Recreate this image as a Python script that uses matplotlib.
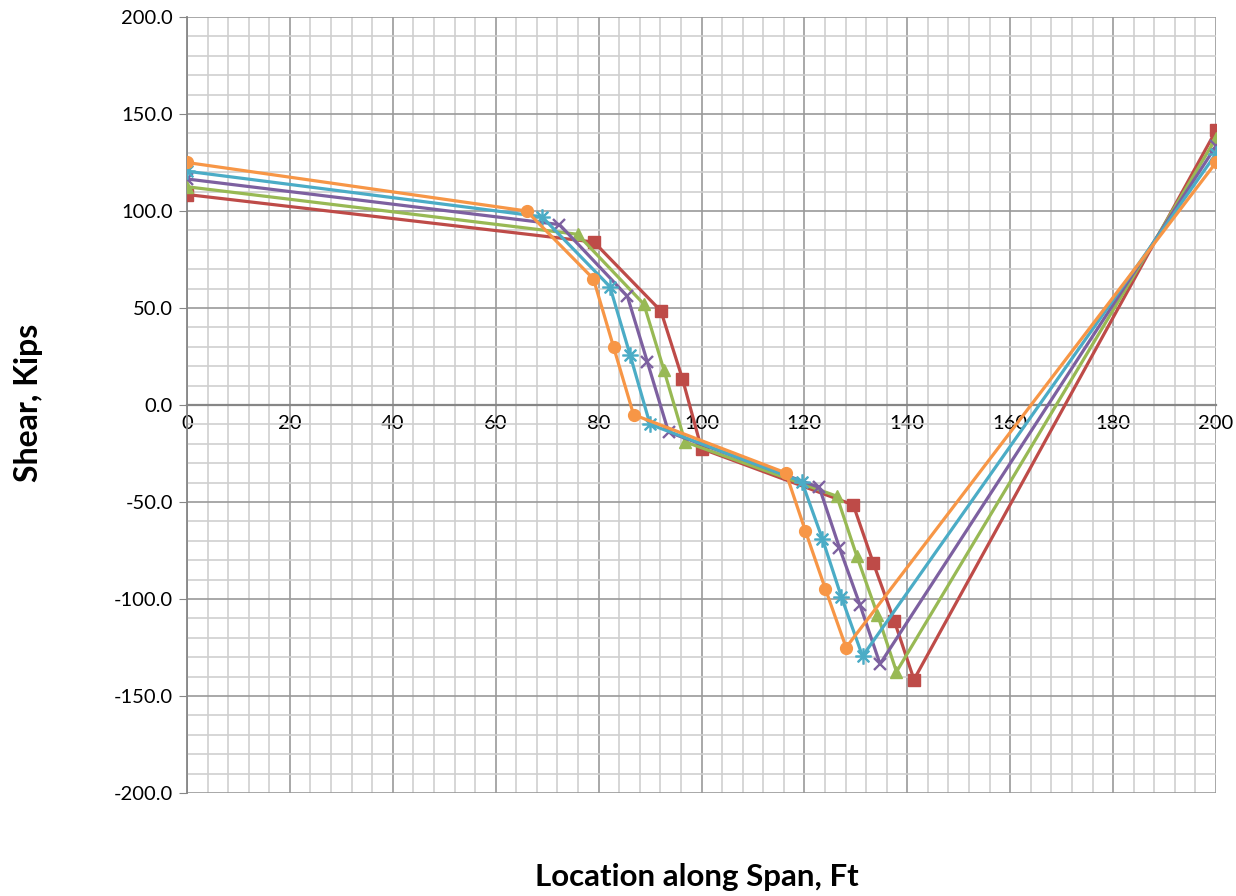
import numpy as np
import matplotlib
matplotlib.use("Agg")
import matplotlib.pyplot as plt
from matplotlib.ticker import MultipleLocator, FormatStrFormatter

# series data (location ft, shear kips)
x_orange = [0, 66.0, 79.0, 82.9, 86.8, 116.4, 120.2, 124.1, 128.1, 200]
y_orange = [125.0, 100.0, 65.0, 30.0, -5.0, -35.0, -65.0, -95.0, -125.0, 125.0]

x_teal = [0, 69.0, 82.2, 86.1, 90.0, 119.5, 123.5, 127.2, 131.3, 200]
y_teal = [120.5, 97.0, 61.0, 26.0, -10.0, -39.5, -69.0, -99.0, -129.5, 129.5]

x_purple = [0, 72.4, 85.6, 89.5, 93.6, 122.9, 126.8, 130.8, 134.7, 200]
y_purple = [116.5, 93.0, 56.0, 22.0, -14.0, -42.5, -73.5, -103.0, -133.5, 133.5]

x_green = [0, 75.9, 88.8, 92.7, 96.8, 126.3, 130.2, 134.2, 137.9, 200]
y_green = [112.5, 88.0, 52.0, 18.0, -19.0, -47.0, -78.0, -108.0, -137.5, 137.5]

x_red = [0, 79.1, 92.1, 96.3, 100.0, 129.5, 133.4, 137.5, 141.3, 200]
y_red = [108.5, 84.0, 48.5, 13.5, -22.5, -51.5, -81.5, -111.5, -141.5, 141.5]

plt.rcParams['font.family'] = ['Lato', 'DejaVu Sans']

fig = plt.figure(figsize=(12.36, 8.96), dpi=100)
ax = fig.add_axes([187/1236, 1-793/896, (1216-187)/1236, (793-17)/896])

series = [
    (x_red, y_red, '#BE4B48', 's', 8.5),
    (x_green, y_green, '#98B954', '^', 8.5),
    (x_purple, y_purple, '#7D60A0', 'x', 8.5),
    (x_teal, y_teal, '#4BACC6', '$\u2733$', 11),
    (x_orange, y_orange, '#F79646', 'o', 8.5),
]
for xs, ys, c, m, ms in series:
    if m == 'x':
        ax.plot(xs, ys, color=c, lw=2.3, marker=m, ms=ms, mew=1.7, zorder=3)
    else:
        ax.plot(xs, ys, color=c, lw=2.3, marker=m, ms=ms, mec=c, mfc=c, zorder=3)

ax.set_xlim(0, 200)
ax.set_ylim(-200, 200)
ax.xaxis.set_major_locator(MultipleLocator(20))
ax.xaxis.set_minor_locator(MultipleLocator(4))
ax.yaxis.set_major_locator(MultipleLocator(50))
ax.yaxis.set_minor_locator(MultipleLocator(10))
ax.yaxis.set_major_formatter(FormatStrFormatter('%.1f'))

ax.grid(which='major', color='#9A9A9A', lw=1.2, zorder=0)
ax.grid(which='minor', color='#CFCFCF', lw=1.2, zorder=0)
ax.set_axisbelow(True)

ax.spines['bottom'].set_position(('data', 0))
ax.spines['bottom'].set_color('#868686')
ax.spines['bottom'].set_linewidth(1.6)
ax.spines['left'].set_color('#868686')
ax.spines['left'].set_linewidth(1.3)
ax.spines['top'].set_visible(False)
ax.spines['right'].set_visible(False)

ax.tick_params(axis='x', which='both', length=0, labelsize=14.5, pad=7)
ax.tick_params(axis='y', which='major', length=6, color='#868686', labelsize=14.5, pad=4)
ax.tick_params(axis='y', which='minor', length=0)

fig.text(697/1236, 1-877/896, 'Location along Span, Ft', fontsize=22.5,
         fontweight='bold', ha='center', va='center')
fig.text(29/1236, 1-403/896, 'Shear, Kips', fontsize=23, fontweight='bold',
         ha='center', va='center', rotation=90)

fig.savefig('out.png', dpi=100)
